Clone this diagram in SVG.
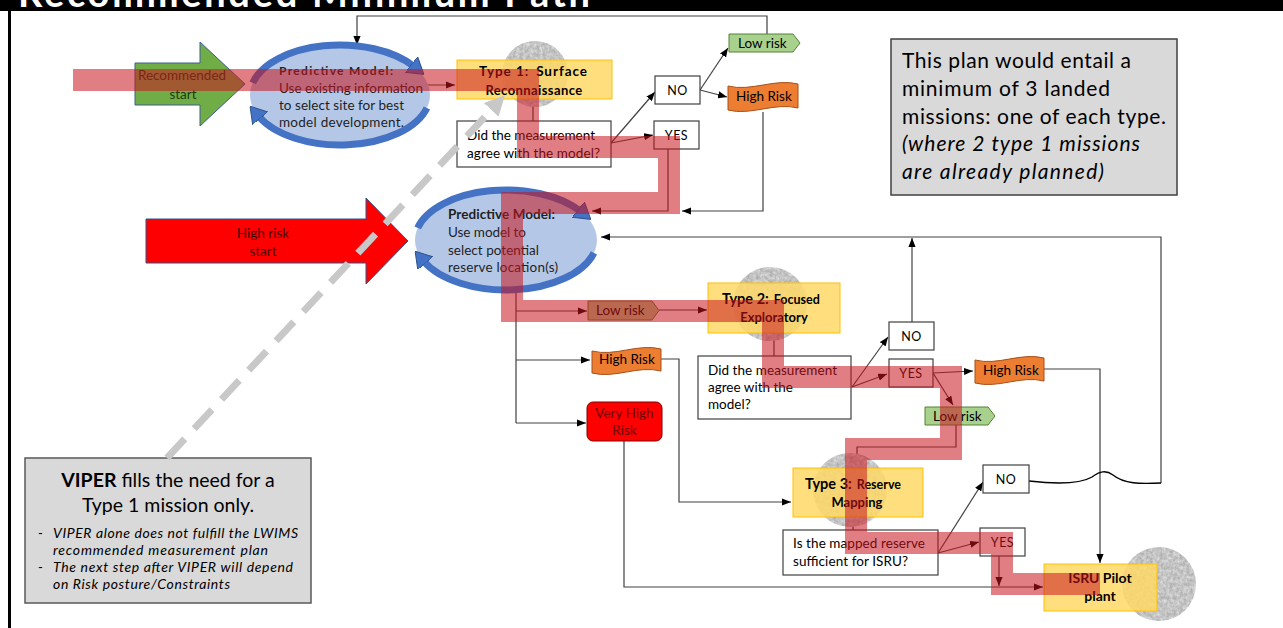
<svg xmlns="http://www.w3.org/2000/svg" width="1283" height="628" viewBox="0 0 1283 628">
<style>
text{font-family:Lato,"Liberation Sans",sans-serif;fill:#000}
.t{font-size:13.5px}
.s{font-size:12.5px}
.b{font-weight:bold}
.ln{fill:none;stroke:#404040;stroke-width:1.2}
.arr{marker-end:url(#ah)}
.dec{fill:#fff;stroke:#404040;stroke-width:1.2}
.yb{fill:#ffd966;fill-opacity:.85;stroke:#ffc000;stroke-width:1}
.moon{fill:#c4c4c4;filter:url(#tex)}
.ell{fill:#b4c7e7}
.ring{fill:none;stroke:#4472c4;stroke-width:7;marker-end:url(#rh)}
.lr{fill:#a9d18e;stroke:#548235;stroke-width:1}
.hr{fill:#ed7d31;stroke:#a5501a;stroke-width:1}
.gbox{fill:#d9d9d9;stroke:#404040;stroke-width:1.5}
.band{fill:none;stroke:#c8141e;stroke-opacity:.55;stroke-width:22;stroke-linejoin:miter}
.c{text-anchor:middle}
</style>
<defs>
<marker id="ah" viewBox="0 0 10 8" refX="10" refY="4" markerWidth="9" markerHeight="7.2" markerUnits="userSpaceOnUse" orient="auto"><path d="M0,0 L10,4 L0,8 Z" fill="#000"/></marker>
<marker id="rh" viewBox="0 0 16 20" refX="3" refY="10" markerWidth="16" markerHeight="20" markerUnits="userSpaceOnUse" orient="auto"><path d="M0,0 L16,10 L0,20 Z" fill="#4472c4" stroke="#2f528f" stroke-width="1"/></marker>
<marker id="gh" viewBox="0 0 10 10" refX="2" refY="5" markerWidth="20" markerHeight="20" markerUnits="userSpaceOnUse" orient="auto"><path d="M0,0 L10,5 L0,10 Z" fill="#c8c8c8"/></marker>
<filter id="tex" x="-5%" y="-5%" width="110%" height="110%" color-interpolation-filters="sRGB">
<feTurbulence type="fractalNoise" baseFrequency="0.3" numOctaves="3" seed="3" result="n"/>
<feColorMatrix in="n" type="matrix" values="0.3 0 0 0 0.62  0.3 0 0 0 0.62  0.3 0 0 0 0.62  0 0 0 0 1" result="g"/>
<feComposite in="g" in2="SourceGraphic" operator="in"/>
</filter>
</defs>
<rect x="0" y="0" width="1283" height="628" fill="#fff"/>
<g id="title">
<rect x="0" y="0" width="1283" height="11" fill="#000"/>
<text x="18" y="7" font-family="'Open Sans',sans-serif" font-weight="bold" font-size="38" style="fill:#fff" textLength="572">Recommended Minimum Path</text>
<line x1="9.5" y1="11" x2="9.5" y2="628" stroke="#000" stroke-width="3"/>
</g>

<g id="connectors">
<path class="ln arr" d="M767,34 V16 H357 V45"/>
<path class="ln arr" d="M410,85 H455"/>
<path class="ln" d="M533,99 V121"/>
<path class="ln arr" d="M611,143 L655,92"/>
<path class="ln arr" d="M611,143 L653,135"/>
<path class="ln arr" d="M700,90 L728,48"/>
<path class="ln arr" d="M700,90 L727,97"/>
<path class="ln arr" d="M763,112 V211 H682"/>
<path class="ln arr" d="M668,149 V211 H592"/>
<path class="ln" d="M516,282 V423"/>
<path class="ln arr" d="M516,311 H587"/>
<path class="ln arr" d="M516,360 H590"/>
<path class="ln arr" d="M516,423 H586"/>
<path class="ln arr" d="M659,310 H707"/>
<path class="ln" d="M774,333 V356"/>
<path class="ln arr" d="M852,387 L888,337"/>
<path class="ln arr" d="M852,387 L887,374"/>
<path class="ln arr" d="M912,322 V238"/>
<path class="ln arr" d="M1161,483 V237 H601"/>
<path class="ln arr" d="M933,373 L973,371"/>
<path class="ln arr" d="M933,373 L953,405"/>
<path class="ln arr" d="M956,425 V447 H857 V466"/>
<path class="ln arr" d="M661,359 H679 V502 H791"/>
<path class="ln arr" d="M1044,369 H1100 V563"/>
<path class="ln" d="M853,517 V530"/>
<path class="ln arr" d="M938,553 L983,482"/>
<path class="ln arr" d="M938,553 L979,542"/>
<path class="ln arr" d="M999,556 V586"/>
<path class="ln arr" d="M624,441 V587 H1043"/>
<path d="M1029,481 C1055,484 1080,484 1092,477 C1100,471 1106,470 1113,475 C1124,484 1140,484 1161,483" fill="none" stroke="#000" stroke-width="1.4"/>
</g>

<g id="recommended-start">
<polygon points="135,63 200,63 200,42 245,84 200,126 200,105 135,105" fill="#70ad47" stroke="#3a5f8f" stroke-width="1"/>
<text class="t c" x="182" y="80" style="fill:#1e3a12">Recommended</text>
<text class="t c" x="183" y="99" style="fill:#1e3a12">start</text>
</g>

<g id="high-risk-start">
<polygon points="146,219 366,219 366,198 408,241 366,284 366,263 146,263" fill="#ff0000" stroke="#2f528f" stroke-width="1"/>
<text class="t c" x="263" y="238" style="fill:#3a0000">High risk</text>
<text class="t c" x="263" y="256" style="fill:#3a0000">start</text>
</g>

<g id="predictive-model-1">
<ellipse class="ell" cx="340" cy="95" rx="90" ry="50"/>
<path class="ring" d="M252.7,82.9 A90,50 0 0 1 413.7,66.3"/>
<path class="ring" d="M426.9,107.9 A90,50 0 0 1 258.4,116.1"/>
<text class="b" x="279" y="75" font-size="12" textLength="114" style="fill:#1f1f1f">Predictive Model:</text>
<text class="t" x="279" y="93" textLength="144" style="fill:#1f1f1f">Use existing information</text>
<text class="t" x="279" y="110" textLength="125" style="fill:#1f1f1f">to select site for best</text>
<text class="t" x="279" y="127" textLength="125" style="fill:#1f1f1f">model development.</text>
</g>

<g id="predictive-model-2">
<ellipse class="ell" cx="506" cy="240" rx="91" ry="50"/>
<path class="ring" d="M417.7,227.9 A91,50 0 0 1 580.5,211.3"/>
<path class="ring" d="M593.9,252.9 A91,50 0 0 1 423.5,261.1"/>
<text class="t b" x="448" y="219" textLength="107" style="fill:#1f1f1f">Predictive Model:</text>
<text class="t" x="448" y="237" textLength="78" style="fill:#1f1f1f">Use model to</text>
<text class="t" x="448" y="255" textLength="91" style="fill:#1f1f1f">select potential</text>
<text class="t" x="448" y="272" textLength="110" style="fill:#1f1f1f">reserve location(s)</text>
</g>

<g id="type1">
<circle class="moon" cx="535" cy="74" r="33"/>
<rect class="yb" x="457" y="60" width="155" height="39"/>
<text class="b" x="479" y="76" font-size="13.5" textLength="108">Type 1:<tspan dx="7">Surface</tspan></text>
<text class="b c" x="534" y="95" font-size="13" letter-spacing="0.4">Reconnaissance</text>
</g>

<g id="decision1">
<rect class="dec" x="457" y="121" width="154" height="46"/>
<text class="t" x="467" y="140" textLength="128">Did the measurement</text>
<text class="t" x="467" y="158" textLength="133">agree with the model?</text>
</g>

<g id="no1"><rect class="dec" x="655" y="76" width="45" height="28"/><text class="s c" x="677.5" y="95" letter-spacing="0.5">NO</text></g>
<g id="yes1"><rect class="dec" x="654" y="121" width="45" height="28"/><text class="s c" x="676.5" y="140" letter-spacing="0.5">YES</text></g>

<g id="low-risk-1">
<path class="lr" d="M729,34 H793 L800,43 L793,52 H729 Z"/>
<text class="t" x="738" y="48">Low risk</text>
</g>
<g id="high-risk-1">
<path class="hr" d="M728,86 C751,92 775,78 798,84 V108 C775,102 751,116 728,110 Z"/>
<text class="t" x="736" y="101">High Risk</text>
</g>

<g id="low-risk-2">
<path class="lr" d="M588,301 H652 L659,310.5 L652,320 H588 Z"/>
<text class="t" x="596" y="315">Low risk</text>
</g>
<g id="high-risk-2">
<path class="hr" d="M592,351 C615,357 638,343 661,349 V371 C638,365 615,379 592,373 Z"/>
<text class="t" x="599" y="364">High Risk</text>
</g>
<g id="very-high-risk">
<rect x="587" y="402" width="75" height="39" rx="6" fill="#ff0000" stroke="#7f0000" stroke-width="1"/>
<text class="t c" x="624.5" y="418" style="fill:#6a0000">Very High</text>
<text class="t c" x="624.5" y="435" style="fill:#6a0000">Risk</text>
</g>

<g id="type2">
<circle class="moon" cx="770" cy="304" r="37"/>
<rect class="yb" x="708" y="283" width="132" height="50"/>
<text class="b" x="722" y="304" font-size="14.5">Type 2:<tspan font-size="12.5" dx="5">Focused</tspan></text>
<text class="b c" x="774" y="322" font-size="13">Exploratory</text>
</g>

<g id="decision2">
<rect class="dec" x="698" y="356" width="153" height="63"/>
<text class="t" x="708" y="375" textLength="129">Did the measurement</text>
<text class="t" x="708" y="392" textLength="85">agree with the</text>
<text class="t" x="708" y="409">model?</text>
</g>

<g id="no2"><rect class="dec" x="889" y="322" width="45" height="28"/><text class="s c" x="911.5" y="341" letter-spacing="0.5">NO</text></g>
<g id="yes2"><rect class="dec" x="889" y="359" width="44" height="28"/><text class="s c" x="911" y="378" letter-spacing="0.5">YES</text></g>

<g id="high-risk-3">
<path class="hr" d="M975,360 C998,366 1021,352 1044,358 V381 C1021,375 998,389 975,383 Z"/>
<text class="t" x="983" y="375">High Risk</text>
</g>
<g id="low-risk-3">
<path class="lr" d="M925,407 H988 L995,416 L988,425 H925 Z"/>
<text class="t" x="933" y="421">Low risk</text>
</g>

<g id="type3">
<circle class="moon" cx="850" cy="490" r="37"/>
<rect class="yb" x="793" y="468" width="130" height="49"/>
<text class="b" x="805" y="489" font-size="14.5">Type 3:<tspan font-size="12.5" dx="5">Reserve</tspan></text>
<text class="b c" x="857" y="507" font-size="13">Mapping</text>
</g>

<g id="decision3">
<rect class="dec" x="783" y="530" width="155" height="45"/>
<text class="t" x="793" y="548" textLength="132">Is the mapped reserve</text>
<text class="t" x="793" y="566" textLength="115">sufficient for ISRU?</text>
</g>

<g id="no3"><rect class="dec" x="983" y="465" width="46" height="28"/><text class="s c" x="1006" y="484" letter-spacing="0.5">NO</text></g>
<g id="yes3"><rect class="dec" x="980" y="528" width="45" height="28"/><text class="s c" x="1002.5" y="547" letter-spacing="0.5">YES</text></g>

<g id="isru">
<circle class="moon" cx="1159" cy="584" r="37"/>
<rect class="yb" x="1044" y="564" width="113" height="47"/>
<text class="b c" x="1100" y="583" font-size="14">ISRU Pilot</text>
<text class="b c" x="1100" y="601" font-size="14">plant</text>
</g>

<g id="info-box">
<rect class="gbox" x="891" y="39" width="286" height="156"/>
<text x="902" y="68" font-size="21" textLength="229">This plan would entail a</text>
<text x="902" y="96" font-size="21" textLength="208">minimum of 3 landed</text>
<text x="902" y="124" font-size="21" textLength="264">missions: one of each type.</text>
<text x="902" y="151" font-size="21" font-style="italic" textLength="238">(where 2 type 1 missions</text>
<text x="902" y="179" font-size="21" font-style="italic" textLength="202">are already planned)</text>
</g>

<g id="viper-box">
<rect class="gbox" x="25" y="458" width="286" height="145" style="stroke:#595959"/>
<text class="c" x="168" y="487" font-size="19.5"><tspan font-weight="bold">VIPER</tspan> fills the need for a</text>
<text class="c" x="168" y="512" font-size="19.5">Type 1 mission only.</text>
<text x="38" y="538" font-size="13">-</text>
<text x="53" y="538" font-size="14" font-style="italic" textLength="245">VIPER alone does not fulfill the LWIMS</text>
<text x="53" y="555" font-size="14" font-style="italic" textLength="215">recommended measurement plan</text>
<text x="38" y="572" font-size="13">-</text>
<text x="53" y="572" font-size="14" font-style="italic" textLength="240">The next step after VIPER will depend</text>
<text x="53" y="589" font-size="14" font-style="italic" textLength="177">on Risk posture/Constraints</text>
</g>

<g id="viper-pointer">
<path d="M167,458 L494,107" fill="none" stroke="#c8c8c8" stroke-width="7" stroke-dasharray="26 14" marker-end="url(#gh)"/>
</g>

<g id="recommended-path">
<path class="band" d="M73,80 H528 V147 H669 V203 H512 V311 H773 V377 H951 V449 H856 V543 H1002 V584 H1100"/>
</g>
</svg>
